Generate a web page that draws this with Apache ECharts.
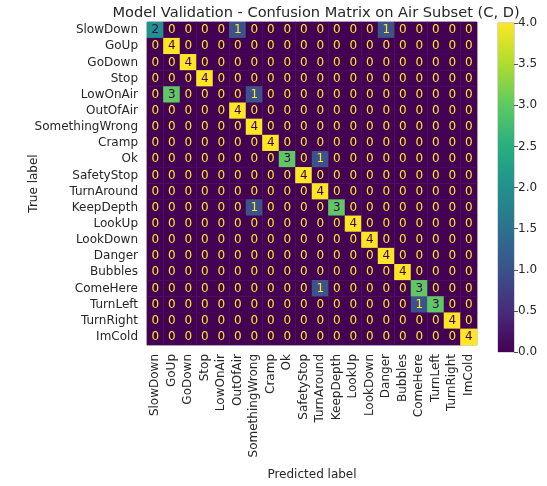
<!DOCTYPE html>
<html>
<head>
<meta charset="utf-8">
<script src="https://cdn.jsdelivr.net/npm/echarts@6/dist/echarts.min.js"></script>
<style>
  html, body { margin: 0; padding: 0; background: #fff; }
  #chart { width: 547px; height: 486px; }
</style>
</head>
<body>
<div id="chart"></div>
<script>
// Class names (same order for true and predicted labels)
const labels = ['SlowDown', 'GoUp', 'GoDown', 'Stop', 'LowOnAir', 'OutOfAir', 'SomethingWrong',
  'Cramp', 'Ok', 'SafetyStop', 'TurnAround', 'KeepDepth', 'LookUp', 'LookDown', 'Danger',
  'Bubbles', 'ComeHere', 'TurnLeft', 'TurnRight', 'ImCold'];

// Confusion matrix counts, one row per true label
const matrix = [
  [2,0,0,0,0,1,0,0,0,0,0,0,0,0,1,0,0,0,0,0],
  [0,4,0,0,0,0,0,0,0,0,0,0,0,0,0,0,0,0,0,0],
  [0,0,4,0,0,0,0,0,0,0,0,0,0,0,0,0,0,0,0,0],
  [0,0,0,4,0,0,0,0,0,0,0,0,0,0,0,0,0,0,0,0],
  [0,3,0,0,0,0,1,0,0,0,0,0,0,0,0,0,0,0,0,0],
  [0,0,0,0,0,4,0,0,0,0,0,0,0,0,0,0,0,0,0,0],
  [0,0,0,0,0,0,4,0,0,0,0,0,0,0,0,0,0,0,0,0],
  [0,0,0,0,0,0,0,4,0,0,0,0,0,0,0,0,0,0,0,0],
  [0,0,0,0,0,0,0,0,3,0,1,0,0,0,0,0,0,0,0,0],
  [0,0,0,0,0,0,0,0,0,4,0,0,0,0,0,0,0,0,0,0],
  [0,0,0,0,0,0,0,0,0,0,4,0,0,0,0,0,0,0,0,0],
  [0,0,0,0,0,0,1,0,0,0,0,3,0,0,0,0,0,0,0,0],
  [0,0,0,0,0,0,0,0,0,0,0,0,4,0,0,0,0,0,0,0],
  [0,0,0,0,0,0,0,0,0,0,0,0,0,4,0,0,0,0,0,0],
  [0,0,0,0,0,0,0,0,0,0,0,0,0,0,4,0,0,0,0,0],
  [0,0,0,0,0,0,0,0,0,0,0,0,0,0,0,4,0,0,0,0],
  [0,0,0,0,0,0,0,0,0,0,1,0,0,0,0,0,3,0,0,0],
  [0,0,0,0,0,0,0,0,0,0,0,0,0,0,0,0,1,3,0,0],
  [0,0,0,0,0,0,0,0,0,0,0,0,0,0,0,0,0,0,4,0],
  [0,0,0,0,0,0,0,0,0,0,0,0,0,0,0,0,0,0,0,4]
];

// Colour bar scale
const cbarMin = 0;
const cbarMax = 4;
const cbarStep = 0.5;

const viridis = ['#440154', '#472d7b', '#3b528b', '#2c728e', '#21918c',
  '#28ae80', '#5ec962', '#addc30', '#fde725'];

const FONT = 'DejaVu Sans';
const TEXT = '#262626';

const vmax = Math.max(...matrix.flat());
const vmin = Math.min(...matrix.flat());
const thresh = (vmax + vmin) / 2;

const cells = [];
matrix.forEach((row, r) => {
  row.forEach((v, c) => {
    cells.push({
      value: [c, r, v],
      label: { color: v < thresh ? viridis[viridis.length - 1] : viridis[0] }
    });
  });
});

const chart = echarts.init(document.getElementById('chart'), null, { renderer: 'canvas' });

chart.setOption({
  animation: false,
  backgroundColor: '#ffffff',
  textStyle: { fontFamily: FONT },
  title: {
    text: 'Model Validation - Confusion Matrix on Air Subset (C, D)',
    left: 311, top: 1, textAlign: 'center',
    textStyle: { fontFamily: FONT, fontSize: 14.6, fontWeight: 'normal', color: TEXT }
  },
  grid: [
    { left: 147, top: 22, width: 330, height: 330, show: true, borderColor: '#aaaaaa', borderWidth: 1, backgroundColor: 'transparent' },
    { left: 498, top: 23, width: 16, height: 329, show: true, borderColor: '#aaaaaa', borderWidth: 1, backgroundColor: 'transparent' }
  ],
  xAxis: [
    {
      type: 'category', gridIndex: 0, data: labels, position: 'bottom',
      axisLine: { show: false }, axisTick: { show: false }, splitLine: { show: false },
      axisLabel: { rotate: 90, interval: 0, margin: 9, fontFamily: FONT, fontSize: 12, color: TEXT },
      name: 'Predicted label', nameLocation: 'middle', nameGap: 124, nameMoveOverlap: false,
      nameTextStyle: { fontFamily: FONT, fontSize: 12, color: TEXT }
    },
    {
      type: 'category', gridIndex: 1, data: ['c'], show: false
    }
  ],
  yAxis: [
    {
      type: 'category', gridIndex: 0, data: labels, inverse: true,
      axisLine: { show: false }, axisTick: { show: false }, splitLine: { show: false },
      axisLabel: { interval: 0, margin: 9, fontFamily: FONT, fontSize: 12, color: TEXT },
      name: 'True label', nameLocation: 'middle', nameGap: 107, nameRotate: 90, nameMoveOverlap: false,
      nameTextStyle: { fontFamily: FONT, fontSize: 12, color: TEXT }
    },
    {
      type: 'value', gridIndex: 1, position: 'right', min: cbarMin, max: cbarMax, interval: cbarStep,
      axisLine: { show: false }, splitLine: { show: false },
      axisTick: { show: true, length: 4, lineStyle: { color: '#555' } },
      axisLabel: { margin: 4, fontFamily: FONT, fontSize: 12, color: TEXT,
        formatter: v => v.toFixed(1) }
    }
  ],
  visualMap: {
    show: false, type: 'continuous', seriesIndex: 0,
    min: cbarMin, max: cbarMax, inRange: { color: viridis }
  },
  series: [
    {
      type: 'heatmap', xAxisIndex: 0, yAxisIndex: 0,
      data: cells,
      label: { show: true, fontFamily: FONT, fontSize: 12, formatter: p => String(p.value[2]) },
      itemStyle: { borderWidth: 0 },
      emphasis: { disabled: true }
    },
    {
      type: 'bar', xAxisIndex: 1, yAxisIndex: 1,
      data: [cbarMax], barWidth: '100%', silent: true,
      itemStyle: {
        color: new echarts.graphic.LinearGradient(0, 1, 0, 0,
          viridis.map((c, i) => ({ offset: i / (viridis.length - 1), color: c })))
      }
    }
  ]
});
</script>
</body>
</html>
